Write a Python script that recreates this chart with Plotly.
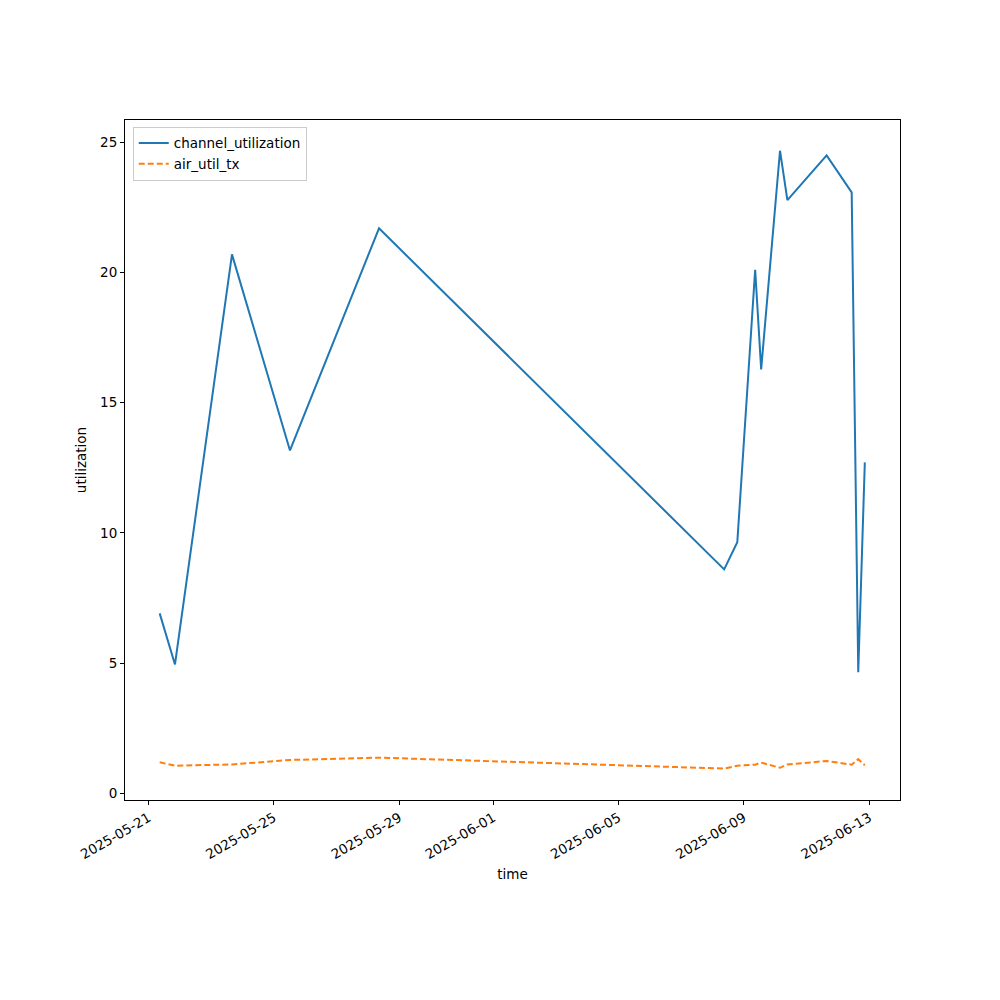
import plotly.graph_objects as go

times = [
    "2025-05-21 08:30", "2025-05-21 20:13", "2025-05-23 15:53", "2025-05-25 12:19",
    "2025-05-28 08:30", "2025-06-08 08:53", "2025-06-08 18:57", "2025-06-09 08:38",
    "2025-06-09 13:14", "2025-06-10 03:40", "2025-06-10 09:20", "2025-06-11 15:23",
    "2025-06-12 10:34", "2025-06-12 15:36", "2025-06-12 20:38",
]
channel_utilization = [6.91, 4.95, 20.70, 13.17, 21.70, 8.60, 9.64, 20.11,
                       16.28, 24.68, 22.78, 24.50, 23.08, 4.65, 12.71]
air_util_tx = [1.19, 1.06, 1.11, 1.28, 1.37, 0.95, 1.06, 1.10,
               1.18, 0.98, 1.11, 1.24, 1.10, 1.31, 1.08]

x_tick_vals = ["2025-05-21", "2025-05-25", "2025-05-29", "2025-06-01",
               "2025-06-05", "2025-06-09", "2025-06-13"]
y_tick_vals = [0, 5, 10, 15, 20, 25]

fig = go.Figure()
fig.add_trace(go.Scatter(x=times, y=channel_utilization, mode="lines",
                         name="channel_utilization",
                         line=dict(color="#1f77b4", width=2)))
fig.add_trace(go.Scatter(x=times, y=air_util_tx, mode="lines",
                         name="air_util_tx",
                         line=dict(color="#ff7f0e", width=2, dash="6px,3px")))

axis_common = dict(showline=True, linecolor="black", linewidth=1, mirror=True,
                   ticks="outside", ticklen=4, tickcolor="black", showgrid=False,
                   zeroline=False, tickfont=dict(family="DejaVu Sans", size=13.5, color="black"))

fig.update_layout(
    width=1000, height=1000,
    margin=dict(l=117, r=108, t=112, b=208),
    paper_bgcolor="white", plot_bgcolor="white",
    font=dict(family="DejaVu Sans", size=13.5, color="black"),
    showlegend=True,
    legend=dict(x=0.01, y=0.99, xanchor="left", yanchor="top",
                bordercolor="#cccccc", borderwidth=1, bgcolor="rgba(255,255,255,0.8)",
                font=dict(family="DejaVu Sans", size=13.5), tracegroupgap=0,
                itemwidth=30),
    xaxis=dict(title=dict(text="time", standoff=8, font=dict(size=13.5)), type="date",
               range=["2025-05-20 05:56", "2025-06-13 23:35"],
               tickvals=x_tick_vals, ticktext=x_tick_vals, tickangle=-30,
               **axis_common),
    yaxis=dict(title=dict(text="utilization", standoff=10, font=dict(size=13.5)),
               range=[-0.257, 25.86], tickvals=y_tick_vals, **axis_common),
)

fig.write_html("out.html")
